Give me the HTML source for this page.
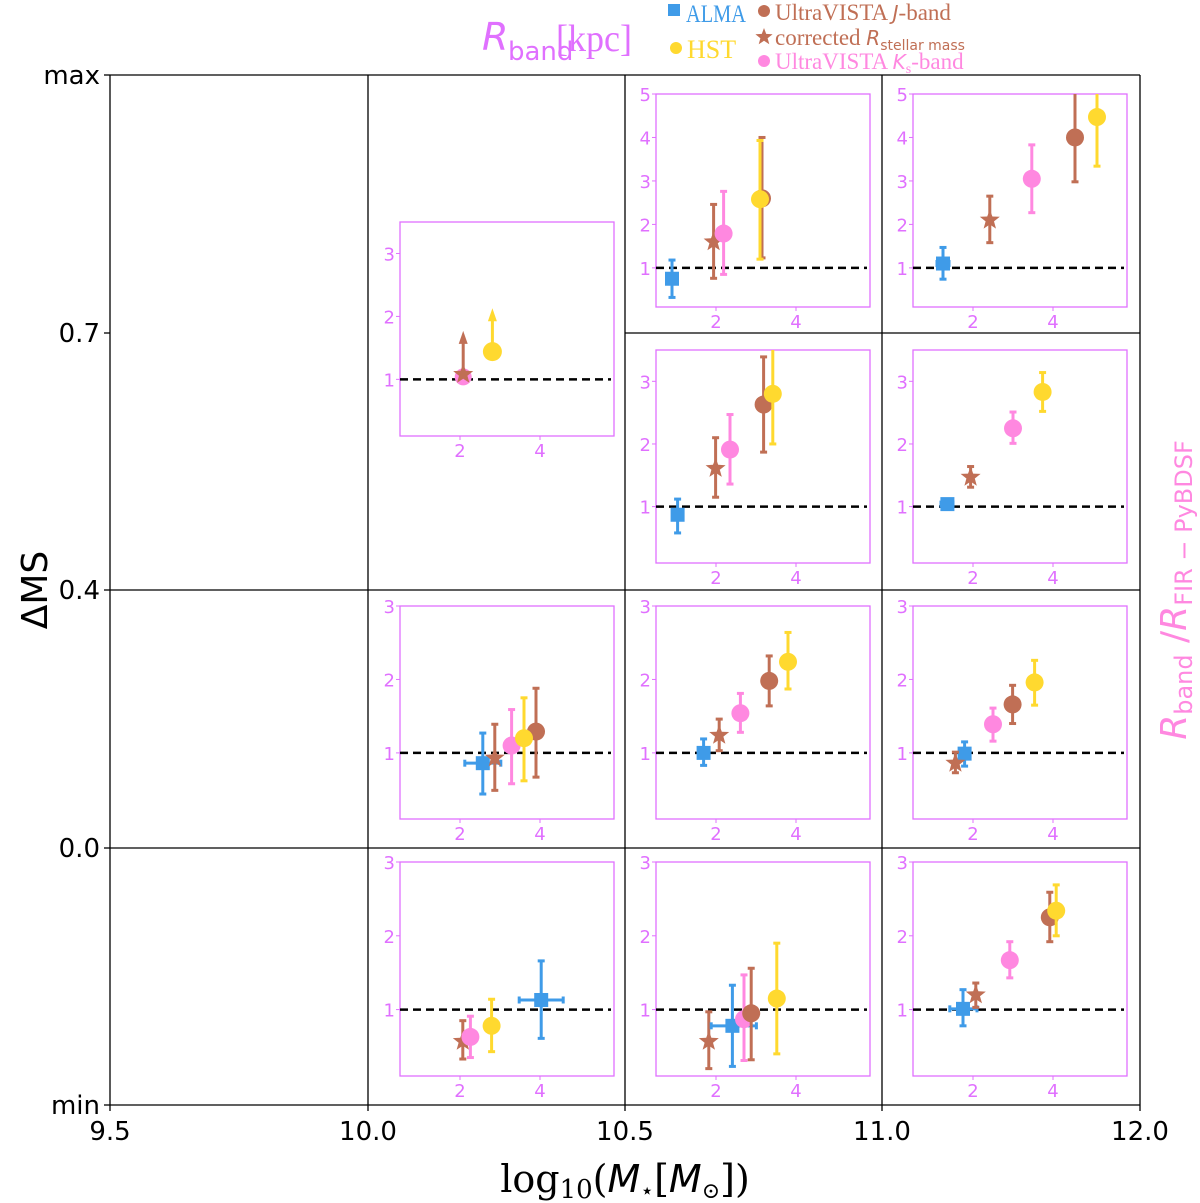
<!DOCTYPE html>
<html><head><meta charset="utf-8"><style>
html,body{margin:0;padding:0;background:#fff;width:1200px;height:1203px;overflow:hidden}
svg{display:block}
</style></head><body>
<svg id="chart" width="1200" height="1203" viewBox="0 0 1200 1203" xmlns="http://www.w3.org/2000/svg" font-family="'DejaVu Sans','Liberation Sans',sans-serif">
<g id="outer"></g>
<g id="insets"></g>
<g>
<text x="482" y="50" font-size="38" fill="#e070ff" font-family="'DejaVu Sans',sans-serif" font-style="italic">R</text>
<text x="508" y="60" font-size="26" fill="#e070ff">band</text>
<text x="556" y="51" font-size="38" fill="#e070ff" font-family="'Liberation Serif',serif" textLength="76" lengthAdjust="spacingAndGlyphs">[kpc]</text>
</g>
<g>
<g><rect x="668" y="4" width="12" height="12" fill="#3f9be8"/><text x="686" y="22" font-size="25" fill="#3f9be8" font-family="'Liberation Serif',serif" textLength="60" lengthAdjust="spacingAndGlyphs">ALMA</text></g>
<g><circle cx="676" cy="48" r="6" fill="#ffd92f"/><text x="687" y="58" font-size="26" fill="#ffd92f" font-family="'Liberation Serif',serif">HST</text></g>
<g><circle cx="764" cy="11" r="6" fill="#c06f55"/><text x="775" y="20" font-size="23" fill="#c06f55" font-family="'Liberation Serif',serif">UltraVISTA <tspan font-style="italic" font-family="'DejaVu Sans',sans-serif" font-size="20">J</tspan>-band</text></g>
<g><path id="legstar" fill="#c06f55"/><text x="775" y="45" font-size="23" fill="#c06f55" font-family="'Liberation Serif',serif">corrected <tspan font-style="italic" font-family="'DejaVu Sans',sans-serif" font-size="20">R</tspan><tspan font-size="14" dy="5" font-family="'DejaVu Sans',sans-serif">stellar mass</tspan></text></g>
<g><circle cx="764" cy="61" r="6" fill="#ff88e0"/><text x="775" y="69" font-size="23" fill="#ff88e0" font-family="'Liberation Serif',serif">UltraVISTA <tspan font-style="italic" font-family="'DejaVu Sans',sans-serif" font-size="20">K</tspan><tspan font-size="14" dy="4">s</tspan><tspan dy="-4">-band</tspan></text></g>
</g>
<text transform="translate(47,590) rotate(-90)" text-anchor="middle" font-size="36">ΔMS</text>
<text x="625" y="1192" text-anchor="middle" font-size="38" font-family="'DejaVu Serif','Liberation Serif',serif">log<tspan font-size="26" dy="6">10</tspan><tspan dy="-6">(</tspan><tspan font-style="italic" font-family="'DejaVu Sans',sans-serif">M</tspan><tspan font-size="22" dy="6">⋆</tspan><tspan dy="-6">[</tspan><tspan font-style="italic" font-family="'DejaVu Sans',sans-serif">M</tspan><tspan font-size="22" dy="6">⊙</tspan><tspan dy="-6">])</tspan></text>
<text transform="translate(1186,590) rotate(-90)" text-anchor="middle" font-size="36" fill="#ff88e0"><tspan font-style="italic">R</tspan><tspan font-size="24" dy="6">band</tspan><tspan dy="-6"> /</tspan><tspan font-style="italic">R</tspan><tspan font-size="24" dy="6">FIR − PyBDSF</tspan></text>
</svg>
<script>
// outer axis data
const outerXTicks = ["9.5","10.0","10.5","11.0","12.0"];
const outerYTicks = ["max","0.7","0.4","0.0","min"];
// inset tick labels
const xTicksInset = [2,4];
const yTicks5 = [1,2,3,4,5];
const yTicks3 = [1,2,3];
// series: [x, y, ylo, yhi, xlo, xhi]
const A_alma=[2.57,0.86,0.44,1.27,2.12,3.02], A_star=[2.87,0.93,0.49,1.39], A_ks=[3.29,1.10,0.58,1.59], A_j=[3.9,1.29,0.67,1.88], A_hst=[3.6,1.20,0.62,1.75];
const B_alma=[1.69,1.0,0.83,1.19], B_star=[2.08,1.24,1.03,1.46], B_ks=[2.61,1.54,1.28,1.81], B_j=[3.33,1.98,1.64,2.32], B_hst=[3.8,2.24,1.87,2.64];
const C_star=[2.07,0.57,0.33,0.85], C_ks=[2.26,0.63,0.35,0.91], C_hst=[2.79,0.78,0.43,1.14], C_alma=[4.03,1.13,0.61,1.66,3.48,4.58];
const D_star=[1.82,0.57,0.2,0.97], D_alma=[2.41,0.78,0.23,1.33,1.88,3.01], D_ks=[2.7,0.87,0.31,1.47], D_j=[2.88,0.95,0.32,1.56], D_hst=[3.52,1.15,0.4,1.9];
const E_alma=[0.9,0.75,0.32,1.18], E_star=[1.94,1.6,0.76,2.46], E_ks=[2.19,1.79,0.85,2.76], E_j=[3.15,2.6,1.23,4.0], E_hst=[3.1,2.58,1.2,3.93];
const F_alma=[1.25,1.1,0.74,1.47,1.1,1.4], F_star=[2.42,2.1,1.58,2.65], F_ks=[3.47,3.05,2.27,3.83], F_j=[4.55,4.0,2.98,5.5], F_hst=[5.1,4.47,3.34,5.5];
const G_alma=[1.04,0.87,0.58,1.12], G_star=[1.99,1.61,1.15,2.1], G_ks=[2.35,1.91,1.36,2.47], G_j=[3.19,2.63,1.87,3.39], G_hst=[3.42,2.8,2.0,3.6];
const H_alma=[1.36,1.04,0.98,1.09,1.2,1.5], H_star=[1.94,1.47,1.31,1.64], H_ks=[3.0,2.25,2.01,2.51], H_hst=[3.74,2.83,2.52,3.14];
const I_star=[1.56,0.86,0.73,1.01], I_alma=[1.79,0.99,0.82,1.15], I_ks=[2.5,1.39,1.16,1.61], I_j=[2.99,1.66,1.4,1.92], I_hst=[3.54,1.96,1.65,2.26];
const J_alma=[1.75,1.01,0.78,1.27,1.42,2.1], J_star=[2.07,1.2,1.03,1.36], J_ks=[2.92,1.67,1.43,1.92], J_j=[3.92,2.25,1.92,2.59], J_hst=[4.08,2.34,2.0,2.69];
// lower limits: [x, y, arrowTop]
const K_ks=[2.08,1.04], K_star=[2.08,1.08,1.77], K_hst=[2.81,1.44,2.13];

const NS="http://www.w3.org/2000/svg";
const COL={alma:"#3f9be8",star:"#c06f55",j:"#c06f55",ks:"#ff88e0",hst:"#ffd92f"};
const MAG="#e070ff";
function mk(tag,attrs,parent){const e=document.createElementNS(NS,tag);for(const k in attrs)e.setAttribute(k,attrs[k]);parent.appendChild(e);return e;}
function starPath(cx,cy,R,r){let d="";for(let i=0;i<10;i++){const a=-Math.PI/2+i*Math.PI/5;const rr=i%2?r:R;d+=(i?"L":"M")+(cx+rr*Math.cos(a)).toFixed(1)+","+(cy+rr*Math.sin(a)).toFixed(1);}return d+"Z";}
document.getElementById("legstar").setAttribute("d",starPath(764,37,9,3.8));

// outer grid
const outer=document.getElementById("outer");
const OX0=110,OX1=1140,OY0=75,OY1=1105;
const colX=[110,368,625,882,1140], rowY=[75,333,590,848,1105];
function ol(x1,y1,x2,y2){const l=mk("line",{x1,y1,x2,y2,stroke:"#000","stroke-width":1.3},outer);

}
ol(OX0,OY0,OX1,OY0);ol(OX0,OY1,OX1,OY1);ol(OX0,OY0,OX0,OY1);ol(OX1,OY0,OX1,OY1);
ol(368,OY0,368,OY1);ol(625,OY0,625,OY1);ol(882,OY0,882,OY1);
ol(625,333,1140,333);ol(OX0,590,OX1,590);ol(OX0,848,OX1,848);
outerXTicks.forEach((t,i)=>{
  mk("line",{x1:colX[i],y1:OY1,x2:colX[i],y2:OY1+6,stroke:"#000","stroke-width":1.3},outer);
  const tx=mk("text",{x:colX[i],y:1140,"text-anchor":"middle","font-size":26},outer);tx.textContent=t;
  
  
});
outerYTicks.forEach((t,i)=>{
  mk("line",{x1:OX0-6,y1:rowY[i],x2:OX0,y2:rowY[i],stroke:"#000","stroke-width":1.3},outer);
  const tx=mk("text",{x:OX0-10,y:rowY[i]+9,"text-anchor":"end","font-size":26},outer);tx.textContent=t;
  
  
});

const insets=document.getElementById("insets");
let clipN=0;
function inset(name,x0,y0,x1,y1,yMax,yT,series,limits){
  const g=mk("g",{},insets);
  
  
  const sx=v=>x0+(v-0.5)*40;
  const sy=v=>y1-(v-0.1)/(yMax-0.1)*(y1-y0);
  const id="c"+(clipN++);
  const cp=mk("clipPath",{id},g);mk("rect",{x:x0,y:y0,width:x1-x0,height:y1-y0},cp);
  const frame=mk("rect",{x:x0,y:y0,width:x1-x0,height:y1-y0,fill:"none",stroke:MAG,"stroke-width":1.3},g);
  
  
  xTicksInset.forEach(t=>{mk("line",{x1:sx(t),y1:y1,x2:sx(t),y2:y1+4,stroke:MAG,"stroke-width":1},g);
    const tx=mk("text",{x:sx(t),y:y1+21,"text-anchor":"middle","font-size":18,fill:MAG},g);tx.textContent=t;
    
    });
  yT.forEach(t=>{mk("line",{x1:x0-4,y1:sy(t),x2:x0,y2:sy(t),stroke:MAG,"stroke-width":1},g);
    const tx=mk("text",{x:x0-5,y:sy(t)+7,"text-anchor":"end","font-size":18,fill:MAG},g);tx.textContent=t;
    
    });
  const pg=mk("g",{"clip-path":"url(#"+id+")"},g);
  const ref=mk("line",{x1:x0,y1:sy(1),x2:x1-3,y2:sy(1),stroke:"#000","stroke-width":2.5,"stroke-dasharray":"8,5"},pg);
  
  
  series.forEach(([kind,d])=>{
    const c=COL[kind];const px=sx(d[0]),py=sy(d[1]);
    const eg=mk("g",{},pg);
    
    
    const ylo=sy(d[2]),yhi=sy(d[3]);
    mk("line",{x1:px,y1:ylo,x2:px,y2:yhi,stroke:c,"stroke-width":3},eg);
    mk("line",{x1:px-3.5,y1:ylo,x2:px+3.5,y2:ylo,stroke:c,"stroke-width":3},eg);
    mk("line",{x1:px-3.5,y1:yhi,x2:px+3.5,y2:yhi,stroke:c,"stroke-width":3},eg);
    if(d.length>4){const a=sx(d[4]),b=sx(d[5]);
      mk("line",{x1:a,y1:py,x2:b,y2:py,stroke:c,"stroke-width":3},eg);
      mk("line",{x1:a,y1:py-3.5,x2:a,y2:py+3.5,stroke:c,"stroke-width":3},eg);
      mk("line",{x1:b,y1:py-3.5,x2:b,y2:py+3.5,stroke:c,"stroke-width":3},eg);}
    if(kind==="alma")mk("rect",{x:px-7,y:py-7,width:14,height:14,fill:c},eg);
    else if(kind==="star")mk("path",{d:starPath(px,py,10.5,4.4),fill:c},eg);
    else mk("circle",{cx:px,cy:py,r:9,fill:c},eg);
  });
  (limits||[]).forEach(([kind,d])=>{
    const c=COL[kind];const px=sx(d[0]),py=sy(d[1]);
    const eg=mk("g",{},pg);
    
    
    if(d.length>2){const ty=sy(d[2]);
      mk("line",{x1:px,y1:py,x2:px,y2:ty+10,stroke:kind==="hst"?c:COL.star,"stroke-width":3},eg);
      mk("path",{d:`M${px},${ty}L${px-4.5},${ty+13}L${px+4.5},${ty+13}Z`,fill:kind==="hst"?c:COL.star},eg);}
    if(kind==="star")mk("path",{d:starPath(px,py,10.5,4.4),fill:c},eg);
    else mk("circle",{cx:px,cy:py,r:kind==="ks"?8.5:9.5,fill:c},eg);
  });
}
inset("inset-10.0-top",400,222,614,436,3.5,yTicks3,[],[["ks",K_ks],["star",K_star],["hst",K_hst]]);
inset("inset-10.5-row1",656,94,870,307,5,yTicks5,[["alma",E_alma],["star",E_star],["ks",E_ks],["j",E_j],["hst",E_hst]]);
inset("inset-11.0-row1",913,94,1127,307,5,yTicks5,[["alma",F_alma],["star",F_star],["ks",F_ks],["j",F_j],["hst",F_hst]]);
inset("inset-10.5-row2",656,350,870,563,3.5,yTicks3,[["alma",G_alma],["star",G_star],["ks",G_ks],["j",G_j],["hst",G_hst]]);
inset("inset-11.0-row2",913,350,1127,563,3.5,yTicks3,[["alma",H_alma],["star",H_star],["ks",H_ks],["hst",H_hst]]);
inset("inset-10.0-row3",400,606,614,819,3,yTicks3,[["alma",A_alma],["star",A_star],["ks",A_ks],["j",A_j],["hst",A_hst]]);
inset("inset-10.5-row3",656,606,870,819,3,yTicks3,[["alma",B_alma],["star",B_star],["ks",B_ks],["j",B_j],["hst",B_hst]]);
inset("inset-11.0-row3",913,606,1127,819,3,yTicks3,[["alma",I_alma],["star",I_star],["ks",I_ks],["j",I_j],["hst",I_hst]]);
inset("inset-10.0-row4",400,862,614,1076,3,yTicks3,[["star",C_star],["ks",C_ks],["hst",C_hst],["alma",C_alma]]);
inset("inset-10.5-row4",656,862,870,1076,3,yTicks3,[["star",D_star],["alma",D_alma],["ks",D_ks],["j",D_j],["hst",D_hst]]);
inset("inset-11.0-row4",913,862,1127,1076,3,yTicks3,[["alma",J_alma],["star",J_star],["ks",J_ks],["j",J_j],["hst",J_hst]]);
</script>
</body></html>
